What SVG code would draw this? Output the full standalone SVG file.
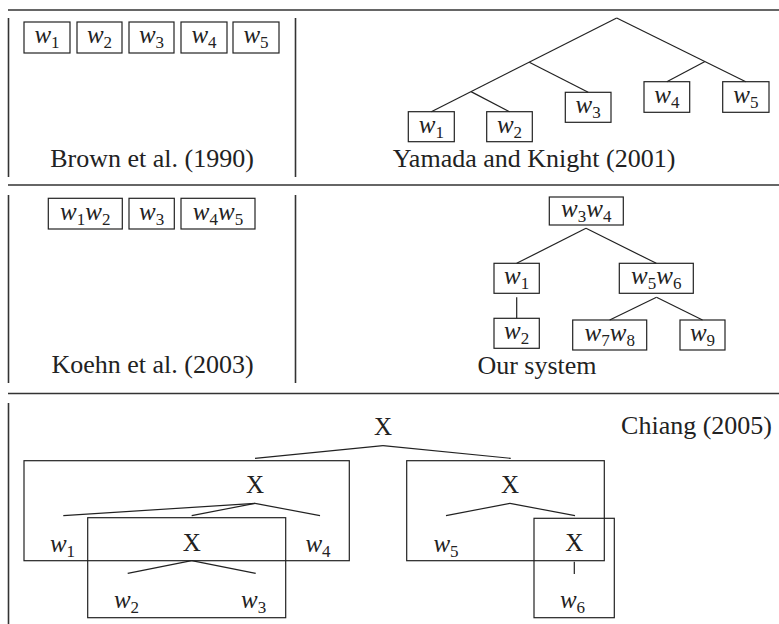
<svg xmlns="http://www.w3.org/2000/svg" width="779" height="624" viewBox="0 0 779 624">
<style>
.bg{fill:#fff}
.box{fill:none;stroke:#222;stroke-width:1.2}
.ln{stroke:#222;stroke-width:1.2;fill:none}
.dv{stroke:#333;stroke-width:1.6}
.t{font-family:"Liberation Serif","Times New Roman",serif;font-size:25px;fill:#222}
.c{font-size:26px}
.m{text-anchor:middle}
.w{font-style:italic}
.s{font-size:17px}
</style>
<rect class="bg" width="779" height="624"/>
<g id="dividers">
<line class="dv" x1="8" y1="10" x2="779" y2="10"/>
<line class="dv" x1="8" y1="185" x2="779" y2="185"/>
<line class="dv" x1="8" y1="393.5" x2="779" y2="393.5"/>
<line class="dv" x1="8.5" y1="18" x2="8.5" y2="177"/>
<line class="dv" x1="295.5" y1="18" x2="295.5" y2="177"/>
<line class="dv" x1="8.5" y1="195" x2="8.5" y2="383"/>
<line class="dv" x1="295.5" y1="195" x2="295.5" y2="383"/>
<line class="dv" x1="8.5" y1="403" x2="8.5" y2="624"/>
</g>
<g id="captions">
<text class="t c m" x="152" y="167">Brown et al. (1990)</text>
<text class="t c m" x="534" y="167">Yamada and Knight (2001)</text>
<text class="t c m" x="152.5" y="373">Koehn et al. (2003)</text>
<text class="t c m" x="537" y="374">Our system</text>
<text class="t c" x="772" y="434" text-anchor="end">Chiang (2005)</text>
</g>
<g id="connectors">
<line class="ln" x1="616.7" y1="18" x2="431.3" y2="111.7"/>
<line class="ln" x1="529.3" y1="62.2" x2="588.2" y2="92.3"/>
<line class="ln" x1="471" y1="91.6" x2="509.5" y2="111.7"/>
<line class="ln" x1="616.7" y1="18" x2="745.8" y2="81.7"/>
<line class="ln" x1="705" y1="61.5" x2="666.8" y2="81.7"/>
<line class="ln" x1="586" y1="228.3" x2="516.7" y2="263.3"/>
<line class="ln" x1="586" y1="228.3" x2="656.3" y2="263.3"/>
<line class="ln" x1="516.7" y1="297.3" x2="516.7" y2="318.3"/>
<line class="ln" x1="656.5" y1="297.3" x2="609.7" y2="320"/>
<line class="ln" x1="656.5" y1="297.3" x2="702.5" y2="320"/>
<line class="ln" x1="383" y1="445.7" x2="255" y2="458.3"/>
<line class="ln" x1="383" y1="445.7" x2="510.7" y2="458.3"/>
<line class="ln" x1="255" y1="503.3" x2="63.3" y2="515.7"/>
<line class="ln" x1="255" y1="503.3" x2="191.7" y2="515.7"/>
<line class="ln" x1="255" y1="503.3" x2="320" y2="515.7"/>
<line class="ln" x1="191.7" y1="560.7" x2="127.7" y2="573.3"/>
<line class="ln" x1="191.7" y1="560.7" x2="255.7" y2="573.3"/>
<line class="ln" x1="510" y1="503.3" x2="446" y2="515.7"/>
<line class="ln" x1="510" y1="503.3" x2="575" y2="515.7"/>
<line class="ln" x1="574.3" y1="561.7" x2="574.3" y2="574"/>
</g>
<g id="brown-w1"><rect class="box" x="24" y="22" width="46" height="31"/><text class="t m" x="47" y="43"><tspan class="w">w</tspan><tspan class="s" dy="5">1</tspan></text></g>
<g id="brown-w2"><rect class="box" x="77" y="22" width="45" height="31"/><text class="t m" x="99.5" y="43"><tspan class="w">w</tspan><tspan class="s" dy="5">2</tspan></text></g>
<g id="brown-w3"><rect class="box" x="129" y="22" width="45" height="31"/><text class="t m" x="151.5" y="43"><tspan class="w">w</tspan><tspan class="s" dy="5">3</tspan></text></g>
<g id="brown-w4"><rect class="box" x="181" y="22" width="46" height="31"/><text class="t m" x="204" y="43"><tspan class="w">w</tspan><tspan class="s" dy="5">4</tspan></text></g>
<g id="brown-w5"><rect class="box" x="233" y="22" width="46" height="31"/><text class="t m" x="256" y="43"><tspan class="w">w</tspan><tspan class="s" dy="5">5</tspan></text></g>
<g id="yk-w1"><rect class="box" x="408.3" y="111.7" width="46" height="30"/><text class="t m" x="431.3" y="132.7"><tspan class="w">w</tspan><tspan class="s" dy="5">1</tspan></text></g>
<g id="yk-w2"><rect class="box" x="486.7" y="111.7" width="45.6" height="30"/><text class="t m" x="509.5" y="132.7"><tspan class="w">w</tspan><tspan class="s" dy="5">2</tspan></text></g>
<g id="yk-w3"><rect class="box" x="565.3" y="92.3" width="45.7" height="30"/><text class="t m" x="588.2" y="113.3"><tspan class="w">w</tspan><tspan class="s" dy="5">3</tspan></text></g>
<g id="yk-w4"><rect class="box" x="644" y="81.7" width="45.7" height="30.6"/><text class="t m" x="666.8" y="102.7"><tspan class="w">w</tspan><tspan class="s" dy="5">4</tspan></text></g>
<g id="yk-w5"><rect class="box" x="722.7" y="81.7" width="46.3" height="30.6"/><text class="t m" x="745.8" y="102.7"><tspan class="w">w</tspan><tspan class="s" dy="5">5</tspan></text></g>
<g id="koehn-w1w2"><rect class="box" x="48.3" y="198.3" width="74" height="30.7"/><text class="t m" x="85.3" y="219.5"><tspan class="w">w</tspan><tspan class="s" dy="5">1</tspan><tspan class="w" dy="-5">w</tspan><tspan class="s" dy="5">2</tspan></text></g>
<g id="koehn-w3"><rect class="box" x="129" y="198.3" width="45.3" height="30.7"/><text class="t m" x="151.7" y="219.5"><tspan class="w">w</tspan><tspan class="s" dy="5">3</tspan></text></g>
<g id="koehn-w4w5"><rect class="box" x="181" y="198.3" width="74" height="30.7"/><text class="t m" x="218" y="219.5"><tspan class="w">w</tspan><tspan class="s" dy="5">4</tspan><tspan class="w" dy="-5">w</tspan><tspan class="s" dy="5">5</tspan></text></g>
<g id="ours-w3w4"><rect class="box" x="549.3" y="197" width="74" height="28"/><text class="t m" x="586.3" y="217"><tspan class="w">w</tspan><tspan class="s" dy="5">3</tspan><tspan class="w" dy="-5">w</tspan><tspan class="s" dy="5">4</tspan></text></g>
<g id="ours-w1"><rect class="box" x="494" y="263.3" width="45.3" height="30"/><text class="t m" x="516.7" y="284.3"><tspan class="w">w</tspan><tspan class="s" dy="5">1</tspan></text></g>
<g id="ours-w5w6"><rect class="box" x="619.3" y="263.3" width="74" height="30"/><text class="t m" x="656.3" y="284.3"><tspan class="w">w</tspan><tspan class="s" dy="5">5</tspan><tspan class="w" dy="-5">w</tspan><tspan class="s" dy="5">6</tspan></text></g>
<g id="ours-w2"><rect class="box" x="494" y="318.3" width="45.3" height="30"/><text class="t m" x="516.7" y="339.3"><tspan class="w">w</tspan><tspan class="s" dy="5">2</tspan></text></g>
<g id="ours-w7w8"><rect class="box" x="572.7" y="320" width="74" height="30"/><text class="t m" x="609.7" y="341"><tspan class="w">w</tspan><tspan class="s" dy="5">7</tspan><tspan class="w" dy="-5">w</tspan><tspan class="s" dy="5">8</tspan></text></g>
<g id="ours-w9"><rect class="box" x="680" y="320" width="45" height="30"/><text class="t m" x="702.5" y="341"><tspan class="w">w</tspan><tspan class="s" dy="5">9</tspan></text></g>
<g id="chiang-root"><text class="t m" x="383" y="435">X</text></g>
<g id="chiang-left"><rect class="box" x="24" y="460.7" width="325.3" height="100"/><text class="t m" x="255" y="493">X</text>
<text class="t m" x="62.5" y="551.7"><tspan class="w">w</tspan><tspan class="s" dy="5">1</tspan></text>
<text class="t m" x="318" y="551.7"><tspan class="w">w</tspan><tspan class="s" dy="5">4</tspan></text></g>
<g id="chiang-inner"><rect class="box" x="87.7" y="517.7" width="198" height="100"/><text class="t m" x="191.7" y="551">X</text>
<text class="t m" x="126.5" y="608.3"><tspan class="w">w</tspan><tspan class="s" dy="5">2</tspan></text>
<text class="t m" x="253.7" y="608.3"><tspan class="w">w</tspan><tspan class="s" dy="5">3</tspan></text></g>
<g id="chiang-right"><rect class="box" x="406.7" y="460.7" width="197.6" height="100"/><text class="t m" x="510" y="493">X</text>
<text class="t m" x="446" y="551.7"><tspan class="w">w</tspan><tspan class="s" dy="5">5</tspan></text></g>
<g id="chiang-small"><rect class="box" x="534" y="518.3" width="80.3" height="99.4"/><text class="t m" x="574.3" y="551">X</text>
<text class="t m" x="572.5" y="608.3"><tspan class="w">w</tspan><tspan class="s" dy="5">6</tspan></text></g>
</svg>
